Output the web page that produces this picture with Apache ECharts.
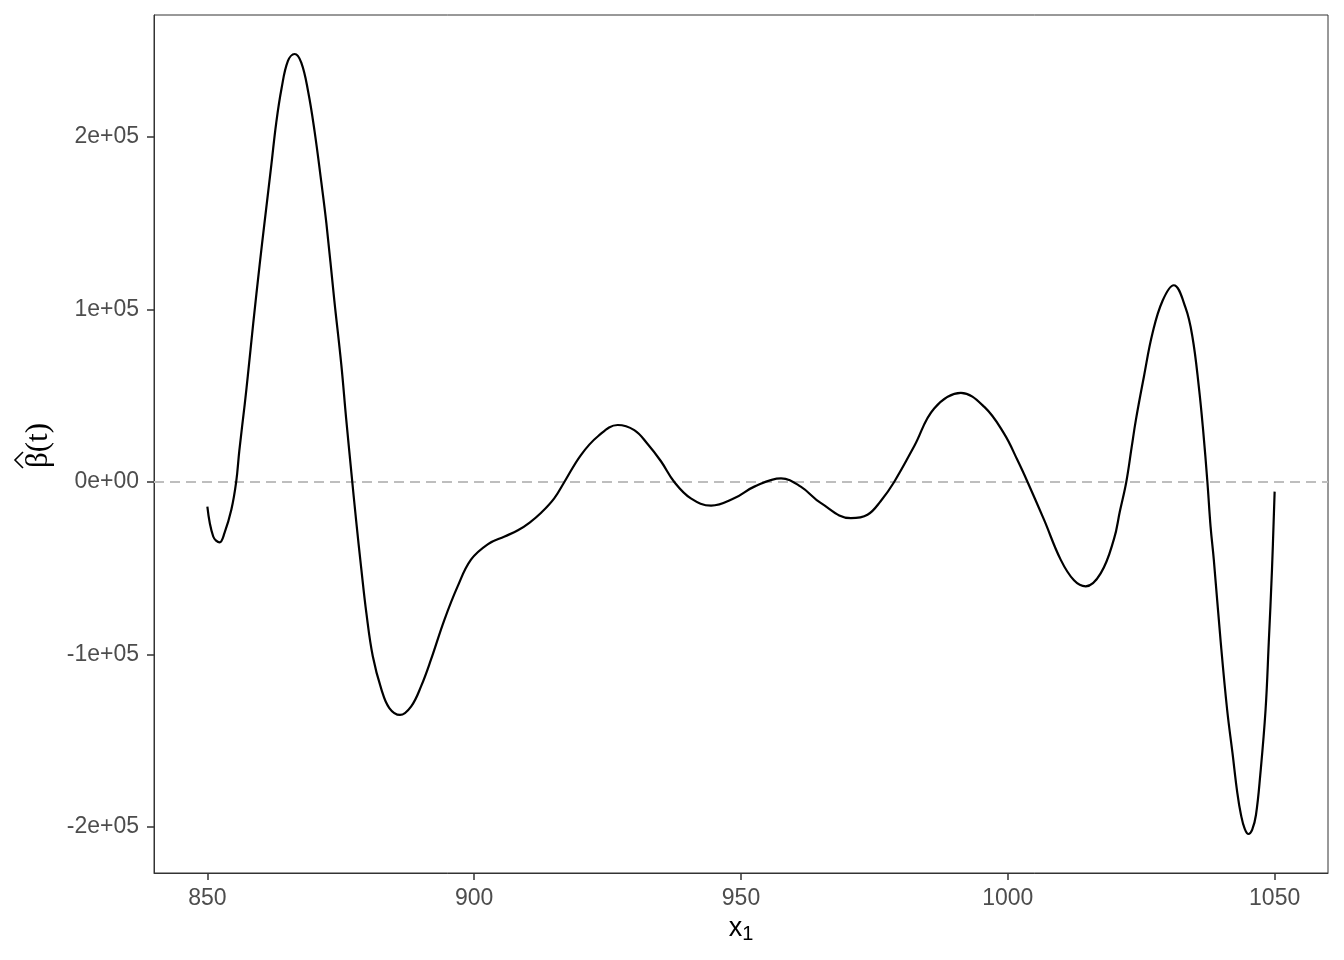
<!DOCTYPE html>
<html>
<head>
<meta charset="utf-8">
<script src="https://cdn.jsdelivr.net/npm/echarts@6/dist/echarts.min.js"></script>
<style>
html,body{margin:0;padding:0;background:#fff;}
#chart{width:1344px;height:960px;}
</style>
</head>
<body>
<div id="chart"></div>
<script>
// x positions (t) and estimated coefficient function values beta_hat(t)
const xValues = [
  850.0, 851.1, 852.3, 853.2, 854.5, 855.4, 856.0, 857.0, 857.6, 858.6,
  859.8, 860.7, 862.0, 862.9, 863.9, 865.1, 866.35, 867.6, 868.9, 870.1,
  871.3, 872.3, 873.8, 875.1, 876.0, 877.0, 877.9, 878.8, 879.8, 881.0,
  882.6, 884.1, 886.1, 888.2, 890.1, 891.9, 894.4, 896.9, 899.4, 902.6,
  905.7, 908.2, 910.4, 912.5, 915.0, 916.9, 920.0, 923.2, 926.9, 930.0,
  932.5, 935.0, 937.5, 940.6, 944.4, 948.7, 952.5, 957.5, 961.2, 965.0,
  970.6, 973.7, 976.2, 978.7, 982.5, 986.2, 991.2, 995.6, 999.3, 1001.8,
  1003.7, 1006.8, 1009.9, 1012.4, 1014.6, 1017.4, 1019.9, 1021.0, 1022.2, 1023.2,
  1024.0, 1025.5, 1027.1, 1029.0, 1031.1, 1033.3, 1034.6, 1035.8, 1036.6, 1037.4,
  1038.0, 1038.6, 1039.9, 1041.1, 1042.1, 1043.0, 1043.7, 1044.4, 1045.1, 1045.8,
  1046.5, 1047.3, 1048.3, 1048.9, 1049.5, 1050.0
];
const betaValues = [
  -14300, -31600, -35000, -29700, -16000, 0, 18500, 45000, 62000, 92000,
  126000, 150000, 184000, 208000, 228000, 244000, 248000, 243000, 226000, 203000,
  175000, 150000, 105000, 68000, 37000, 5000, -23000, -49000, -76000, -101000,
  -120000, -131000, -135000, -130000, -118000, -103000, -80000, -60500, -45000, -36000,
  -31600, -28000, -23500, -18000, -9500, 0, 15600, 26500, 33000, 30000,
  22000, 12000, 0, -9500, -13700, -9500, -2700, 2100, -2700, -12300,
  -21000, -19000, -11000, 0, 21000, 42600, 51600, 43500, 28000, 12700,
  0, -22000, -45000, -57000, -60500, -53000, -33000, -17000, 0, 20000,
  36000, 61000, 86000, 105000, 114000, 101000, 84000, 55000, 30000, 0,
  -26000, -45000, -93000, -132000, -157000, -180000, -193000, -201000, -204000, -201500,
  -193000, -170000, -132000, -93000, -51000, -5600
];
const xTickValues = [850, 900, 950, 1000, 1050];
const yTickValues = [-200000, -100000, 0, 100000, 200000];
const yTickLabels = ['-2e+05', '-1e+05', '0e+00', '1e+05', '2e+05'];
const referenceLevel = 0;

const lineData = xValues.map((x, i) => [x, betaValues[i]]);

const chart = echarts.init(document.getElementById('chart'), null, {renderer: 'canvas'});
const labelColor = '#4d4d4d';
const sansFont = 'Liberation Sans, Arial, sans-serif';
const serifFont = 'Liberation Serif, Times New Roman, serif';
const option = {
  animation: false,
  backgroundColor: '#ffffff',
  grid: {
    left: 154, right: 16, top: 15, bottom: 87,
    show: true, borderColor: '#333333', borderWidth: 1, backgroundColor: '#ffffff'
  },
  xAxis: {
    type: 'value',
    min: 840, max: 1060,
    splitLine: {show: false},
    axisLine: {show: true, onZero: false, lineStyle: {color: '#333333', width: 1}},
    axisTick: {show: true, length: 7, lineStyle: {color: '#333333', width: 1.5}, customValues: xTickValues},
    axisLabel: {
      color: labelColor, fontSize: 23, fontFamily: sansFont,
      margin: 14, customValues: xTickValues,
      formatter: function (v) { return String(v); }
    },
    name: '{a|x}{b|1}',
    nameLocation: 'middle',
    nameGap: 32,
    nameTextStyle: {
      rich: {
        a: {fontSize: 27, color: '#000', fontFamily: sansFont},
        b: {fontSize: 20, color: '#000', fontFamily: sansFont, verticalAlign: 'bottom', padding: [12, 0, 0, 0]}
      }
    }
  },
  yAxis: {
    type: 'value',
    min: -226600, max: 270600,
    splitLine: {show: false},
    axisLine: {show: true, onZero: false, lineStyle: {color: '#333333', width: 1}},
    axisTick: {show: true, length: 7, lineStyle: {color: '#333333', width: 1.5}, customValues: yTickValues},
    axisLabel: {
      color: labelColor, fontSize: 23, fontFamily: sansFont,
      margin: 15, customValues: yTickValues,
      formatter: function (v) {
        const i = yTickValues.indexOf(v);
        return i >= 0 ? yTickLabels[i] : '';
      }
    }
  },
  graphic: [
    {
      // y-axis title: beta-hat(t), rotated to read bottom-to-top
      type: 'group',
      x: 39, y: 468,
      rotation: Math.PI / 2,
      children: [
        {
          type: 'text',
          x: 0, y: 0,
          style: {
            text: 'β(t)',
            fill: '#000',
            font: '31px ' + serifFont,
            align: 'left',
            verticalAlign: 'middle'
          }
        },
        {
          type: 'polyline',
          shape: {points: [[0, -16], [8, -24], [16, -16]]},
          style: {stroke: '#000', lineWidth: 1.6, fill: null}
        }
      ]
    }
  ],
  series: [
    {
      type: 'line',
      data: lineData,
      showSymbol: false,
      smooth: 0.4,
      lineStyle: {color: '#000000', width: 2.2},
      z: 3,
      markLine: {
        silent: true,
        symbol: ['none', 'none'],
        label: {show: false},
        lineStyle: {color: '#bebebe', type: [10, 6], width: 2},
        data: [{yAxis: referenceLevel}],
        z: 1
      }
    }
  ]
};
chart.setOption(option);
</script>
</body>
</html>
